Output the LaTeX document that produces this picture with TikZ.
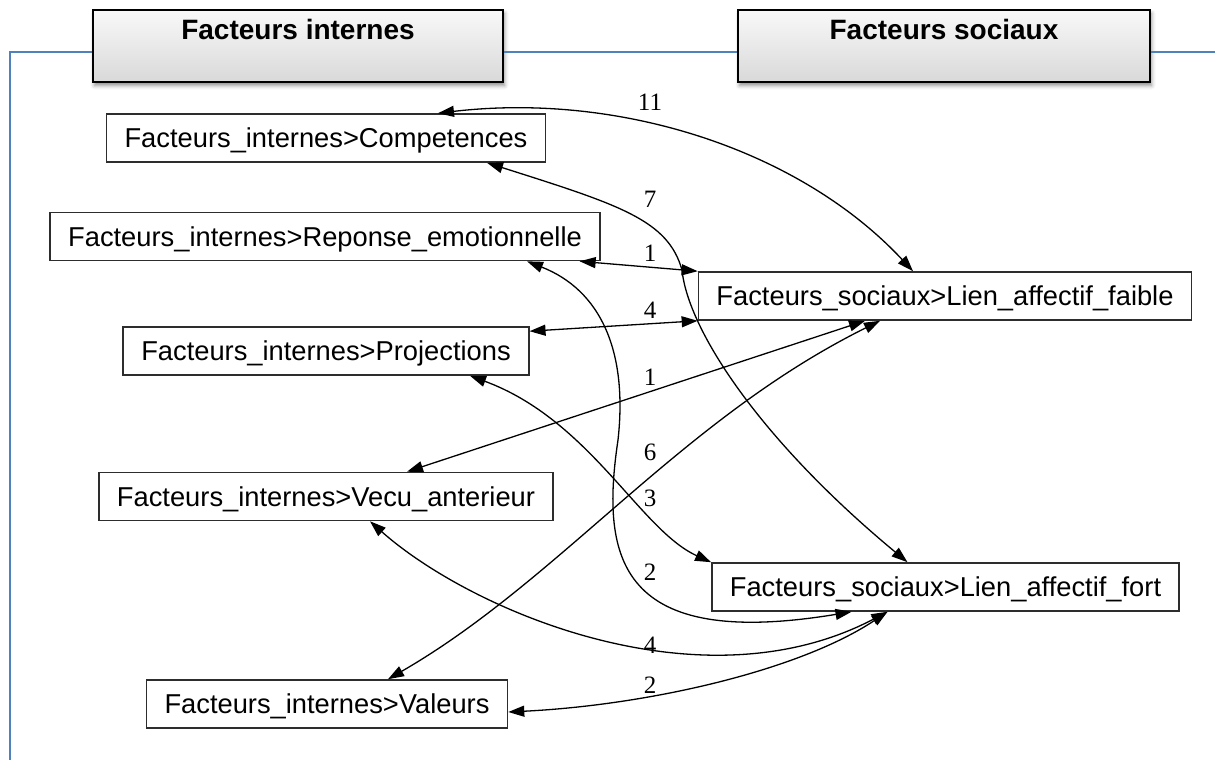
\documentclass[tikz,border=0pt]{standalone}
\usepackage{fontspec}
\setmainfont{Liberation Sans}
\newfontfamily\lblfont{Liberation Serif}
\usetikzlibrary{arrows.meta,shadows,shadows.blur}
\definecolor{frameblue}{RGB}{79,129,189}
\begin{document}
\begin{tikzpicture}[x=1pt,y=-1pt,
  header/.style={draw=black, line width=1.6pt, top color=gray!5, bottom color=gray!30,
    minimum width=#1, minimum height=72pt, inner sep=0pt, text height=30pt, text depth=42pt,
    font=\fontsize{28}{32}\selectfont\bfseries,
    blur shadow={shadow xshift=1.5pt, shadow yshift=-3.5pt, shadow blur radius=4pt, shadow opacity=45}},
  fnode/.style={draw=gray!35!black, line width=1.6pt, fill=white, inner xsep=18pt, inner ysep=0pt,
    minimum height=48pt, text height=24pt, text depth=5pt, font=\fontsize{27.3}{30}\selectfont},
  link/.style={line width=1.3pt, {Triangle[length=16pt,width=11pt]}-{Triangle[length=16pt,width=11pt]}},
  lbl/.style={font=\lblfont\fontsize{25}{28}\selectfont, inner sep=0pt},
  frame/.style={draw=frameblue, line width=1.8pt}]
\useasboundingbox (0,0) rectangle (1215,760);

% category headers
\node[header=410pt] (h1) at (298,46) {Facteurs internes};
\node[header=412pt] (h2) at (944,46) {Facteurs sociaux};

% blue frame
\draw[frame] ([yshift=-6pt]h1.west) -- (10,52) -- (10,760);
\draw[frame] ([yshift=-6pt]h1.east) -- ([yshift=-6pt]h2.west);
\draw[frame] ([yshift=-6pt]h2.east) -- (1215,52);

% internal factors
\node[fnode] (comp) at (326,138) {Facteurs\_internes>Competences};
\node[fnode] (rep)  at (325,236.5) {Facteurs\_internes>Reponse\_emotionnelle};
\node[fnode] (proj) at (326,351) {Facteurs\_internes>Projections};
\node[fnode] (vecu) at (326,496.5) {Facteurs\_internes>Vecu\_anterieur};
\node[fnode] (val)  at (327,704) {Facteurs\_internes>Valeurs};

% social factors
\node[fnode] (faible) at (945,296) {Facteurs\_sociaux>Lien\_affectif\_faible};
\node[fnode] (fort)   at (945.5,587) {Facteurs\_sociaux>Lien\_affectif\_fort};

% connectors
\draw[link] ([xshift=112pt]comp.north) .. controls (620,92) and (800,150) .. ([xshift=-32pt]faible.north);
\draw[link] ([xshift=161pt]comp.south) .. controls (620,205) and (668,220) .. (682,270)
            .. controls (688,330) and (760,440) .. ([xshift=-38pt]fort.north);
\draw[link] ([xshift=-21pt]rep.south east) -- (faible.north west);
\draw[link] ([yshift=-5pt]proj.north east) -- (faible.south west);
\draw[link] ([xshift=81pt]vecu.north) -- ([xshift=-80pt]faible.south);
\draw[link] ([xshift=61pt]val.north) .. controls (560,580) and (680,420) .. ([xshift=-65pt]faible.south);
\draw[link] ([xshift=144pt]proj.south) .. controls (590,420) and (640,530) .. (fort.north west);
\draw[link] ([xshift=202pt]rep.south) .. controls (600,290) and (628,350) .. (618,440)
            .. controls (600,560) and (620,650) .. ([xshift=-94pt]fort.south);
\draw[link] ([xshift=44pt]vecu.south) .. controls (470,610) and (700,710) .. ([xshift=-58pt]fort.south);
\draw[link] ([yshift=-8pt]val.east) .. controls (650,705) and (800,670) .. ([xshift=-58pt]fort.south);

% edge weights
\node[lbl] (w11) at (650,102) {11};
\node[lbl] (w7)  at (650,199) {7};
\node[lbl] (w1a) at (650,253) {1};
\node[lbl] (w4a) at (650,310) {4};
\node[lbl] (w1b) at (650,377) {1};
\node[lbl] (w6)  at (650,452) {6};
\node[lbl] (w3)  at (650,498) {3};
\node[lbl] (w2a) at (650,572) {2};
\node[lbl] (w4b) at (650,645) {4};
\node[lbl] (w2b) at (650,685) {2};
\end{tikzpicture}
\end{document}
